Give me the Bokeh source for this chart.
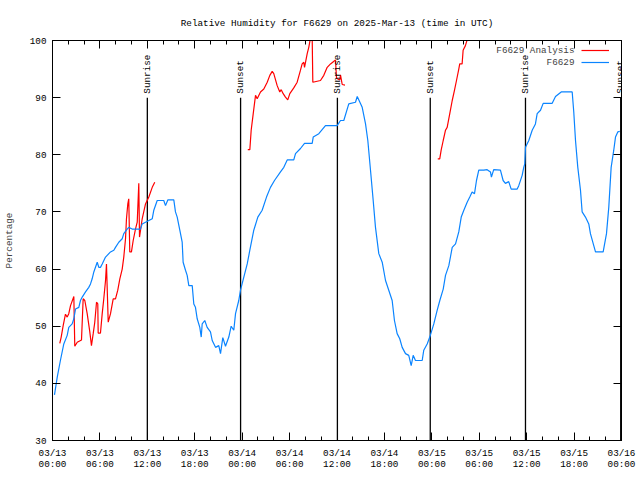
import math
import numpy as np
from bokeh.plotting import figure
from bokeh.core.properties import value
from bokeh.models import (Range1d, FixedTicker, LinearAxis, Legend, LegendItem,
                          Label, LabelSet, ColumnDataSource)
from bokeh.embed import file_html
from bokeh.resources import INLINE

# ---- data (hours since 2025-03-13 00:00 UTC) ----
obs_hours = [0.25, 0.6, 1.0, 1.43, 1.86, 2.06, 2.49, 2.7, 2.91, 3.33, 3.54, 3.76, 4.18, 4.59,
             4.81, 5.02, 5.23, 5.66, 5.86, 6.07, 6.29, 6.71, 6.92, 7.34, 7.76, 7.97, 8.39, 8.82,
             9.02, 9.45, 9.65, 10.08, 11.13, 11.35, 11.77, 12.19, 12.62, 12.82, 13.25, 14.08,
             14.3, 14.59, 15.35, 15.56, 15.78, 16.11, 16.41, 16.53, 16.83, 17.04, 17.25, 17.68,
             17.88, 18.09, 18.31, 18.64, 18.82, 18.94, 19.27, 19.57, 19.99, 20.21, 20.63, 21.04,
             21.26, 21.55, 21.89, 22.31, 22.61, 22.94, 23.16, 23.57, 23.79, 24.21, 24.64, 24.97,
             25.47, 25.98, 26.53, 27.08, 27.58, 28.09, 28.85, 29.27, 29.7, 30.53, 30.75, 31.38,
             31.89, 32.86, 32.99, 33.7, 34.54, 36.02, 36.44, 36.86, 37.49, 38.34, 38.56, 39.19,
             39.61, 39.9, 40.24, 40.58, 40.87, 41.29, 41.72, 42.14, 42.55, 42.98, 43.27, 43.61,
             43.94, 44.25, 44.67, 45.08, 45.39, 45.64, 45.93, 46.78, 46.98, 47.41, 47.74, 48.25,
             48.68, 49.01, 49.44, 49.73, 50.15, 50.58, 51.0, 51.41, 51.72, 52.05, 52.47, 52.8,
             53.1, 53.4, 53.65, 53.94, 54.57, 55.0, 55.42, 55.54, 55.83, 56.68, 57.02, 57.31,
             57.73, 58.04, 58.8, 59.0, 59.43, 59.63, 59.76, 59.85, 60.27, 60.7, 61.11, 61.33,
             61.75, 62.09, 63.23, 63.65, 64.37, 65.76, 65.96, 66.18, 66.47, 66.81, 67.02, 67.44,
             67.86, 68.07, 68.49, 68.71, 69.68, 70.1, 70.39, 70.69, 71.02, 71.24, 71.53, 71.78]
obs_rh = [38.0, 41.1, 44.0, 46.9, 48.4, 49.8, 50.4, 51.3, 53.0, 53.3, 54.5, 55.1, 56.0, 56.8,
          57.4, 58.3, 59.5, 61.2, 60.3, 60.3, 60.9, 62.1, 62.4, 63.0, 63.3, 63.8, 64.7, 65.3,
          66.2, 67.0, 67.3, 67.0, 67.0, 67.9, 68.2, 68.5, 68.8, 70.3, 72.0, 72.0,
          71.1, 72.1, 72.1, 70.0, 69.1, 66.8, 64.7, 61.2, 59.8, 58.9, 57.1, 57.1,
          53.9, 53.3, 51.3, 49.8, 48.1, 50.4, 51.0, 49.8, 49.0, 47.5, 46.3, 46.6,
          45.2, 48.0, 46.5, 48.1, 50.0, 49.3, 52.2, 54.5, 56.3, 58.6, 60.9, 63.3,
          66.8, 69.1, 70.3, 72.6, 74.3, 75.5, 77.0, 77.8, 79.1, 79.1, 80.2, 81.1,
          82.0, 82.0, 83.1, 83.7, 85.1, 85.1, 86.0, 86.0, 88.9, 89.2, 90.2, 88.3,
          85.4, 82.5, 77.3, 72.0, 67.3, 62.7, 61.2, 58.0, 56.3, 54.5, 51.0, 48.7,
          47.8, 46.3, 45.2, 44.9, 43.1, 44.9, 44.0, 44.0, 45.8, 46.9, 48.1, 50.4,
          52.8, 54.5, 56.5, 58.9, 60.6, 63.8, 64.4, 66.5, 69.1, 70.3, 71.7, 72.6,
          73.5, 73.2, 75.5, 77.3, 77.3, 77.4, 77.0, 76.1, 77.4, 77.3, 75.5, 75.0,
          75.3, 74.0, 74.0, 74.6, 76.4, 77.8, 78.4, 81.3, 82.5, 84.3, 85.4, 87.2,
          87.8, 89.0, 89.0, 90.2, 91.0, 91.0, 87.5, 82.5, 77.8, 73.8, 70.0, 69.1,
          67.9, 66.2, 64.1, 63.0, 63.0, 66.2, 70.8, 77.8, 80.8, 83.1, 84.0, 84.1]

nan = float("nan")
ana_hours = [0.92, 1.1, 1.35, 1.64, 1.86, 2.06, 2.28, 2.7, 2.82, 3.13, 3.67, 3.88, 4.09, 4.39,
             4.72, 4.93, 5.15, 5.35, 5.57, 5.73, 5.78, 6.07, 6.29, 6.49, 6.71, 6.83, 7.05, 7.34,
             7.68, 7.97, 8.26, 8.52, 8.82, 9.02, 9.24, 9.36, 9.53, 9.65, 9.78, 9.99, 10.21, 10.5,
             10.72, 10.92, 11.01, 11.35, 11.77, 12.19, 12.62, 12.94,
             18.0,
             24.71, 24.97, 25.14, 25.4, 25.69, 25.9, 26.32, 26.74, 27.17, 27.5, 27.8, 28.0,
             28.43, 28.76, 28.94, 29.19, 29.48, 29.77, 30.03, 30.53, 30.96, 31.38, 31.59, 31.8,
             31.89, 32.23, 32.43, 32.65, 32.86, 32.94, 33.91, 34.33, 34.76, 35.18, 35.81, 35.94,
             36.35, 36.44, 36.66, 37.01,
             43.0,
             48.75, 49.0, 49.18, 49.44, 49.73, 49.94, 50.27, 50.58, 50.87, 51.12, 51.41, 51.53,
             51.83, 51.96, 52.25, 52.55]
ana_rh = [47.0, 48.1, 50.1, 52.1, 51.6, 52.2, 53.6, 55.2, 46.5, 47.2, 47.6, 54.8, 54.5, 52.2,
          49.0, 46.6, 48.7, 50.7, 54.2, 53.9, 48.8, 48.8, 52.2, 54.8, 58.0, 60.9, 50.7, 52.2,
          54.8, 54.8, 56.3, 58.3, 60.0, 62.1, 65.3, 68.8, 71.4, 72.3, 63.0, 63.0, 65.0, 67.0,
          68.2, 75.0, 65.6, 68.8, 71.4, 72.6, 74.3, 75.2,
          nan,
          80.9, 80.9, 84.3, 87.2, 90.4, 89.8, 91.0, 91.5, 92.7, 93.9, 94.6, 94.2,
          92.1, 91.0, 91.4, 90.7, 90.1, 89.6, 90.7, 91.7, 92.7, 94.8, 95.9, 96.2,
          95.3, 97.7, 98.8, 100.5, 100.5, 92.7, 93.0, 93.9, 95.3, 95.9, 96.6, 93.4,
          93.1, 94.0, 92.3, 92.2,
          nan,
          79.3, 79.3, 80.8, 82.5, 84.3, 84.8, 87.2, 89.5, 91.3, 93.0, 95.0, 95.9,
          95.9, 98.3, 99.1, 100.5]

sun_hours = [12.0, 23.8, 36.05, 47.8, 59.85, 71.9]
sun_labels = ["Sunrise", "Sunset", "Sunrise", "Sunset", "Sunrise", "Sunset"]
sun_bottom = [30] * 6
sun_top = [90] * 6

x_ticks = [0, 6, 12, 18, 24, 30, 36, 42, 48, 54, 60, 66, 72]
x_tick_labels = ["03/13\n00:00", "03/13\n06:00", "03/13\n12:00", "03/13\n18:00",
                 "03/14\n00:00", "03/14\n06:00", "03/14\n12:00", "03/14\n18:00",
                 "03/15\n00:00", "03/15\n06:00", "03/15\n12:00", "03/15\n18:00",
                 "03/16\n00:00"]
x_minor = list(range(0, 73, 2))
y_ticks = [30, 40, 50, 60, 70, 80, 90, 100]

FONT = "Liberation Mono"
FS = "9.3px"
RED = "#ff0000"
BLUE = "#0a84ff"

p = figure(frame_width=569, frame_height=400,
           x_range=Range1d(0, 72), y_range=Range1d(30, 100),
           output_backend="svg", toolbar_location=None,
           title="Relative Humidity for F6629 on 2025-Mar-13 (time in UTC)",
           min_border_left=52, min_border_right=19, min_border_top=40,
           min_border_bottom=34)
p.title.align = "center"
p.title.text_font = FONT
p.title.text_font_size = FS
p.title.text_font_style = "normal"
p.title.text_color = "black"
p.title.offset = 0
p.title.standoff = 24
p.xgrid.visible = False
p.ygrid.visible = False
p.outline_line_color = "black"
p.outline_line_alpha = 1
p.outline_line_width = 1
p.background_fill_color = "white"
p.border_fill_color = "white"

xt = FixedTicker(ticks=x_ticks, minor_ticks=x_minor)
yt = FixedTicker(ticks=y_ticks, minor_ticks=[])

xa = p.xaxis[0]
xa.ticker = xt
xa.major_label_overrides = {t: l for t, l in zip(x_ticks, x_tick_labels)}
ya = p.yaxis[0]
ya.ticker = yt
ya.axis_label = "Percentage"

for ax in (xa, ya):
    ax.major_label_text_font = FONT
    ax.major_label_text_font_size = FS
    ax.major_label_text_color = "black"
    ax.axis_label_text_font = FONT
    ax.axis_label_text_font_size = FS
    ax.axis_label_text_font_style = "normal"
    ax.axis_line_color = "black"
    ax.major_tick_in = 8
    ax.major_tick_out = 0
    ax.minor_tick_in = 4
    ax.minor_tick_out = 0
    ax.major_tick_line_color = "black"
    ax.minor_tick_line_color = "black"
xa.major_label_standoff = 7
xa.major_label_text_line_height = 1.05
ya.major_label_standoff = 6
ya.axis_label_standoff = 12

top = LinearAxis(ticker=FixedTicker(ticks=x_ticks, minor_ticks=x_minor),
                 major_label_overrides={t: "" for t in x_ticks},
                 major_label_text_font_size="0px",
                 major_tick_in=8, major_tick_out=0,
                 minor_tick_in=4, minor_tick_out=0, major_label_standoff=0,
                 axis_line_color="black")
right = LinearAxis(ticker=FixedTicker(ticks=y_ticks, minor_ticks=[]),
                   major_label_overrides={t: "" for t in y_ticks},
                   major_label_text_font_size="0px",
                   major_tick_in=8, major_tick_out=0,
                   minor_tick_in=0, minor_tick_out=0, major_label_standoff=0,
                   axis_line_color="black")
p.add_layout(top, "above")
p.add_layout(right, "right")

# sunrise / sunset markers
p.segment(x0=sun_hours, y0=sun_bottom, x1=sun_hours, y1=sun_top,
          line_color="black", line_width=1.3)
sun_src = ColumnDataSource(dict(x=sun_hours, y=[90.7] * 6, text=sun_labels))
p.add_layout(LabelSet(x="x", y="y", text="text", source=sun_src, angle=math.pi / 2,
                      text_align="left", text_baseline="middle", text_font=value(FONT),
                      text_font_size=value(FS), text_color="black"))

red = p.line(ana_hours, ana_rh, line_color=RED, line_width=1.2)
blue = p.line(obs_hours, obs_rh, line_color=BLUE, line_width=1.2)

leg = Legend(items=[LegendItem(label=" ", renderers=[red]),
                    LegendItem(label=" ", renderers=[blue])],
             location="top_right", border_line_alpha=0, background_fill_alpha=0,
             margin=0, padding=4, spacing=0, glyph_width=28, glyph_height=12,
             label_height=12, label_width=0, label_standoff=8,
             label_text_font=FONT, label_text_font_size=FS)
p.add_layout(leg)
p.add_layout(Label(x=66.05, y=98.25, text="F6629 Analysis", text_align="right",
                   text_baseline="middle", text_font=FONT, text_font_size=FS))
p.add_layout(Label(x=66.05, y=96.1, text="F6629", text_align="right",
                   text_baseline="middle", text_font=FONT, text_font_size=FS))

open("out.html", "w").write(file_html(p, INLINE))
